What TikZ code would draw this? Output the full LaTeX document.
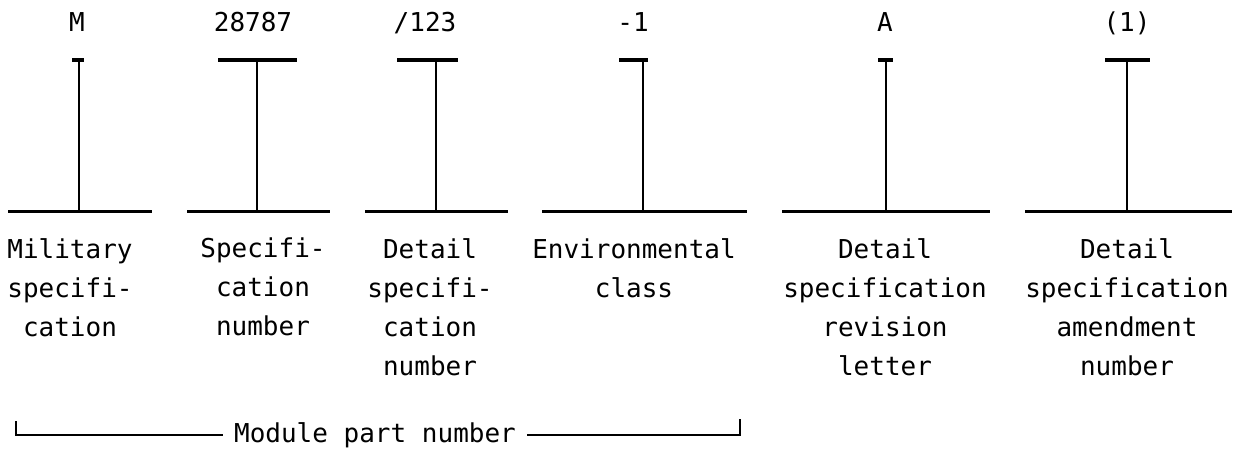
\documentclass[tikz,border=0pt]{standalone}
\usepackage{fontspec}
\setmonofont{DejaVu Sans Mono}
\begin{document}
\begin{tikzpicture}[x=1pt,y=-1pt,
  code/.style={font=\ttfamily\fontsize{26}{30}\selectfont, anchor=base, inner sep=0pt},
  desc/.style={font=\ttfamily\fontsize{26}{39}\selectfont, anchor=north, align=center, inner sep=0pt},
  hline/.style={line width=3pt},
  stem/.style={line width=2pt},
  topbar/.style={line width=3.2pt},
  bracket/.style={line width=2pt}]
\useasboundingbox (0,0) rectangle (1239,457);
% top codes
\node[code] (c1) at (77,32) {M};
\node[code] (c2) at (253,32) {28787};
\node[code] (c3) at (425,32) {/123};
\node[code] (c4) at (633,32) {-1};
\node[code] (c5) at (885,32) {A};
\node[code] (c6) at (1127,32) {(1)};
% stems and bars
\coordinate (t1) at (79,60);  \coordinate (b1) at (79,212);
\coordinate (t2) at (257,60); \coordinate (b2) at (257,212);
\coordinate (t3) at (436,60); \coordinate (b3) at (436,212);
\coordinate (t4) at (643,60); \coordinate (b4) at (643,212);
\coordinate (t5) at (886,60); \coordinate (b5) at (886,212);
\coordinate (t6) at (1127,60);\coordinate (b6) at (1127,212);
\coordinate (t1l) at (72,60);  \coordinate (t1r) at (84,60);
\coordinate (t2l) at (218,60); \coordinate (t2r) at (297,60);
\coordinate (t3l) at (397,60); \coordinate (t3r) at (458,60);
\coordinate (t4l) at (619,60); \coordinate (t4r) at (648,60);
\coordinate (t5l) at (878,60); \coordinate (t5r) at (893,60);
\coordinate (t6l) at (1105,60);\coordinate (t6r) at (1150,60);
\coordinate (b1l) at (8,212);   \coordinate (b1r) at (152,212);
\coordinate (b2l) at (187,212); \coordinate (b2r) at (330,212);
\coordinate (b3l) at (365,212); \coordinate (b3r) at (508,212);
\coordinate (b4l) at (542,212); \coordinate (b4r) at (747,212);
\coordinate (b5l) at (782,212); \coordinate (b5r) at (990,212);
\coordinate (b6l) at (1025,212);\coordinate (b6r) at (1232,212);
\foreach \i in {1,...,6}{
  \draw[topbar] (t\i l) -- (t\i r);
  \draw[stem] (t\i) -- (b\i);
  \draw[hline] (b\i l) -- (b\i r);
}
% descriptions
\node[desc] (d1) at (70,238) {Military\\specifi-\\cation};
\node[desc] (d2) at (263,238) {Specifi-\\cation\\number};
\node[desc] (d3) at (430,238) {Detail\\specifi-\\cation\\number};
\node[desc] (d4) at (634,238) {Environmental\\class};
\node[desc] (d5) at (885,238) {Detail\\specification\\revision\\letter};
\node[desc] (d6) at (1127,238) {Detail\\specification\\amendment\\number};
% module bracket
\node[font=\ttfamily\fontsize{26}{30}\selectfont, inner xsep=11pt, inner ysep=0pt] (mod) at (375,435) {Module part number};
\coordinate (ml) at (16,421);
\coordinate (mr) at (740,419);
\draw[bracket] (ml) |- (mod.west);
\draw[bracket] (mod.east) -| (mr);
\end{tikzpicture}
\end{document}
